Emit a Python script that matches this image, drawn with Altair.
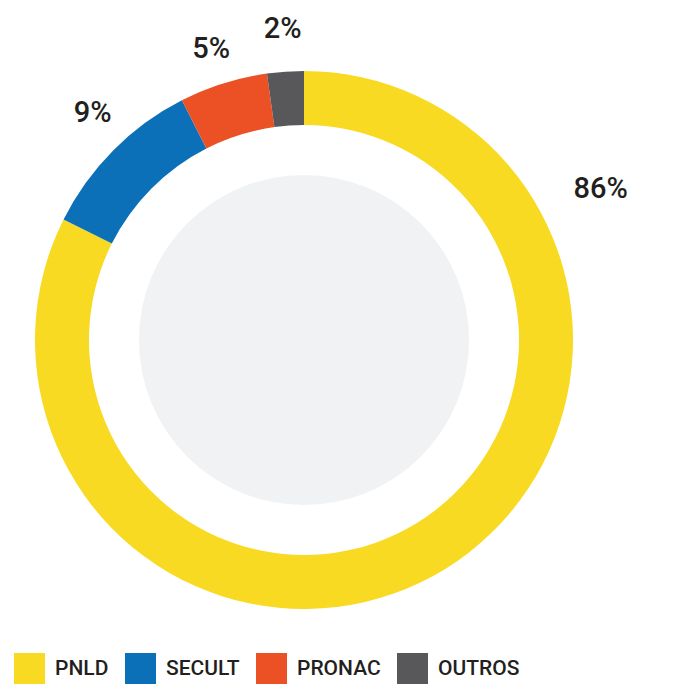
import altair as alt
import pandas as pd

# Data
categories = ["PNLD", "SECULT", "PRONAC", "OUTROS"]
shares = [82.4, 10.1, 5.3, 2.2]          # arc sizes as drawn
labels = ["86%", "9%", "5%", "2%"]       # printed labels
label_angle = [63.0, 317.0, 342.3, 356.1]  # label direction, degrees clockwise from top
label_radius = [333, 310, 305, 312]
colors = ["#F8DA22", "#0B70B8", "#EB5125", "#58585A"]

df = pd.DataFrame({"cat": categories, "share": shares, "idx": list(range(4))})
lab = pd.DataFrame({"label": labels, "ang": label_angle, "r": label_radius})
bg = pd.DataFrame({"v": [1]})

W, H = 592, 664

circle = alt.Chart(bg).mark_arc(radius=165, color="#F1F2F4").encode(
    theta=alt.Theta("v:Q", stack=True)
)

donut = alt.Chart(df).mark_arc(outerRadius=269, innerRadius=215).encode(
    theta=alt.Theta("share:Q", stack=True),
    order=alt.Order("idx:Q", sort="ascending"),
    color=alt.Color(
        "cat:N",
        scale=alt.Scale(domain=categories, range=colors),
        legend=alt.Legend(
            title=None,
            orient="none",
            direction="horizontal",
            legendX=6,
            legendY=645,
            symbolType="square",
            symbolSize=961,
            symbolStrokeWidth=0,
            symbolOpacity=1,
            labelFont="Roboto",
            labelFontSize=21,
            labelFontWeight=500,
            labelColor="#231F20",
            labelOffset=10,
            columnPadding=16,
            padding=0,
        ),
    ),
)

text = alt.Chart(lab).mark_text(
    font="Roboto", fontSize=29, fontWeight=500, color="#231F20",
    align="center", baseline="middle",
).encode(
    theta=alt.Theta("ang:Q", scale=alt.Scale(domain=[0, 360]), stack=False),
    radius=alt.Radius("r:Q", scale=None),
    text="label:N",
)

chart = (
    alt.layer(circle, donut, text)
    .resolve_scale(theta="independent")
    .properties(
        width=W,
        height=H,
        autosize=alt.AutoSizeParams(type="none"),
        padding={"left": 0, "top": 0, "right": 85, "bottom": 30},
    )
    .configure_view(stroke=None)
)

chart.save("out.html", embed_options={"renderer": "svg", "actions": False})
